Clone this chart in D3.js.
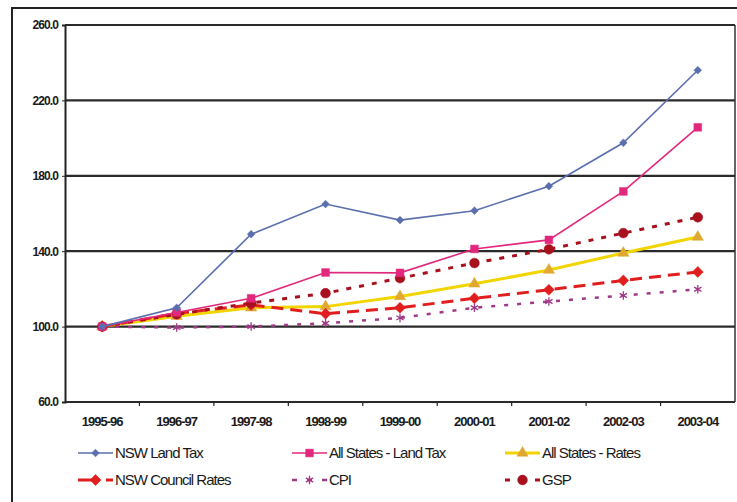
<!DOCTYPE html>
<html>
<head>
<meta charset="utf-8">
<script src="https://cdn.jsdelivr.net/npm/d3@7"></script>
<style>
  body { margin: 0; background: #fff; }
  text { font-family: "Liberation Sans Narrow", "Arial Narrow", "Liberation Sans", Arial, sans-serif; fill: #1a1a1a; }
</style>
</head>
<body>
<div id="container"></div>
<script>
// data
var years = ["1995-96", "1996-97", "1997-98", "1998-99", "1999-00", "2000-01", "2001-02", "2002-03", "2003-04"];
var nswLandTax = [100, 110, 149, 165, 156.5, 161.5, 174.5, 197.5, 236];
var allLandTax = [100, 107.5, 115, 128.7, 128.5, 141.2, 146, 171.7, 205.7];
var allRates = [100, 105.5, 110, 110.6, 116, 122.7, 130, 139, 147.5];
var nswCouncil = [100, 107, 111.5, 106.8, 110, 115, 119.5, 124.5, 129];
var cpi = [100, 99.5, 100, 101.8, 104.6, 110, 113.3, 116.5, 119.8];
var gsp = [100, 106.5, 112.5, 117.7, 125.7, 133.7, 141, 149.6, 158];
var yTicks = [60, 100, 140, 180, 220, 260];

var series = [
  { name: "NSW Land Tax", values: nswLandTax, color: "#5b6fae", width: 1.6, dash: null, legDash: null, marker: "diamond", mcolor: "#5b6fae", msize: 30 },
  { name: "All States - Land Tax", values: allLandTax, color: "#e2287c", width: 1.6, dash: null, legDash: null, marker: "square", mcolor: "#e2287c", msize: 60 },
  { name: "All States - Rates", values: allRates, color: "#f2d500", width: 3, dash: null, legDash: null, marker: "triangle", mcolor: "#e0a830", msize: 55 },
  { name: "NSW Council Rates", values: nswCouncil, color: "#e01e1e", width: 3, dash: "12,7", legDash: "20,8,8", marker: "diamond", mcolor: "#e01e1e", msize: 60 },
  { name: "CPI", values: cpi, color: "#a03a86", width: 2.5, dash: "4,9", legDash: "5,10", marker: "asterisk", mcolor: "#a03a86", msize: 50 },
  { name: "GSP", values: gsp, color: "#a8101e", width: 3, dash: "5,8", legDash: "5,10", marker: "circle", mcolor: "#a8101e", msize: 75 }
];

var W = 737, H = 502;
var plotL = 65, plotR = 735, plotT = 25, plotB = 402;

var svg = d3.select("#container").append("svg")
  .attr("width", W).attr("height", H);

// outer frame (right and bottom edges fall outside the picture)
svg.append("rect")
  .attr("x", 12).attr("y", 8).attr("width", 760).attr("height", 520)
  .attr("fill", "none").attr("stroke", "#222").attr("stroke-width", 2);

var x = d3.scalePoint().domain(years).range([plotL, plotR]).padding(0.5);
var y = d3.scaleLinear().domain([60, 260]).range([plotB, plotT]);

// plot right border
svg.append("line")
  .attr("x1", plotR).attr("x2", plotR).attr("y1", plotT).attr("y2", plotB)
  .attr("stroke", "#333").attr("stroke-width", 1.5);

// gridlines
svg.append("g").selectAll("line")
  .data(yTicks)
  .enter().append("line")
  .attr("x1", plotL).attr("x2", plotR)
  .attr("y1", function (d) { return y(d); })
  .attr("y2", function (d) { return y(d); })
  .attr("stroke", "#2a2a2a").attr("stroke-width", 2.2);

// left axis
var yAxis = d3.axisLeft(y).tickValues(yTicks).tickSize(3)
  .tickFormat(function (d) { return d.toFixed(1); });
var gy = svg.append("g").attr("transform", "translate(" + plotL + ",0)").call(yAxis);
gy.select(".domain").attr("stroke", "#222").attr("stroke-width", 2);
gy.selectAll("line").attr("stroke", "#222");
gy.selectAll("text").attr("font-size", 12).attr("font-weight", "bold").attr("letter-spacing", -0.9).attr("dx", -1);

// bottom axis, ticks between categories
var step = x.step();
var gx = svg.append("g").attr("transform", "translate(0," + plotB + ")");
gx.selectAll("line.tk")
  .data(years.slice(1))
  .enter().append("line")
  .attr("x1", function (d) { return x(d) - step / 2; })
  .attr("x2", function (d) { return x(d) - step / 2; })
  .attr("y1", 0).attr("y2", 4)
  .attr("stroke", "#222").attr("stroke-width", 1.2);
gx.selectAll("text")
  .data(years)
  .enter().append("text")
  .attr("x", function (d) { return x(d); })
  .attr("y", 24)
  .attr("text-anchor", "middle")
  .attr("font-size", 13).attr("font-weight", "bold").attr("letter-spacing", -1)
  .text(function (d) { return d; });

function symbolFor(m) {
  if (m === "diamond") return d3.symbolSquare;
  if (m === "square") return d3.symbolSquare;
  if (m === "triangle") return d3.symbolTriangle;
  if (m === "asterisk") return d3.symbolAsterisk;
  return d3.symbolCircle;
}
function rot(m) { return m === "diamond" ? " rotate(45)" : ""; }

var line = d3.line()
  .x(function (d, i) { return x(years[i]); })
  .y(function (d) { return y(d); });

// draw series back to front
var order = [2, 4, 3, 5, 1, 0];
order.forEach(function (k) {
  var s = series[k];
  svg.append("path")
    .attr("d", line(s.values))
    .attr("fill", "none")
    .attr("stroke", s.color)
    .attr("stroke-width", s.width)
    .attr("stroke-dasharray", s.dash);
  svg.append("g").selectAll("path")
    .data(s.values)
    .enter().append("path")
    .attr("transform", function (d, i) { return "translate(" + x(years[i]) + "," + y(d) + ")" + rot(s.marker); })
    .attr("d", d3.symbol().type(symbolFor(s.marker)).size(s.msize))
    .attr("fill", s.marker === "asterisk" ? "none" : s.mcolor)
    .attr("stroke", s.mcolor)
    .attr("stroke-width", s.marker === "asterisk" ? 1.3 : 0.5);
});

// legend
var legX = [78, 292, 505], legY = [453, 480];
var lg = svg.append("g").selectAll("g")
  .data(series)
  .enter().append("g")
  .attr("transform", function (d, i) { return "translate(" + legX[i % 3] + "," + legY[Math.floor(i / 3)] + ")"; });
lg.append("line")
  .attr("x1", 0).attr("x2", 35)
  .attr("stroke", function (d) { return d.color; })
  .attr("stroke-width", function (d) { return d.width; })
  .attr("stroke-dasharray", function (d) { return d.legDash; });
lg.append("path")
  .attr("transform", function (d) { return "translate(17.5,0)" + rot(d.marker); })
  .attr("d", function (d) { return d3.symbol().type(symbolFor(d.marker)).size(d.msize)(); })
  .attr("fill", function (d) { return d.marker === "asterisk" ? "none" : d.mcolor; })
  .attr("stroke", function (d) { return d.mcolor; })
  .attr("stroke-width", function (d) { return d.marker === "asterisk" ? 1.3 : 0.5; });
lg.append("text")
  .attr("x", 37).attr("y", 5)
  .attr("font-size", 15).attr("letter-spacing", -1)
  .text(function (d) { return d.name; });
</script>
</body>
</html>
